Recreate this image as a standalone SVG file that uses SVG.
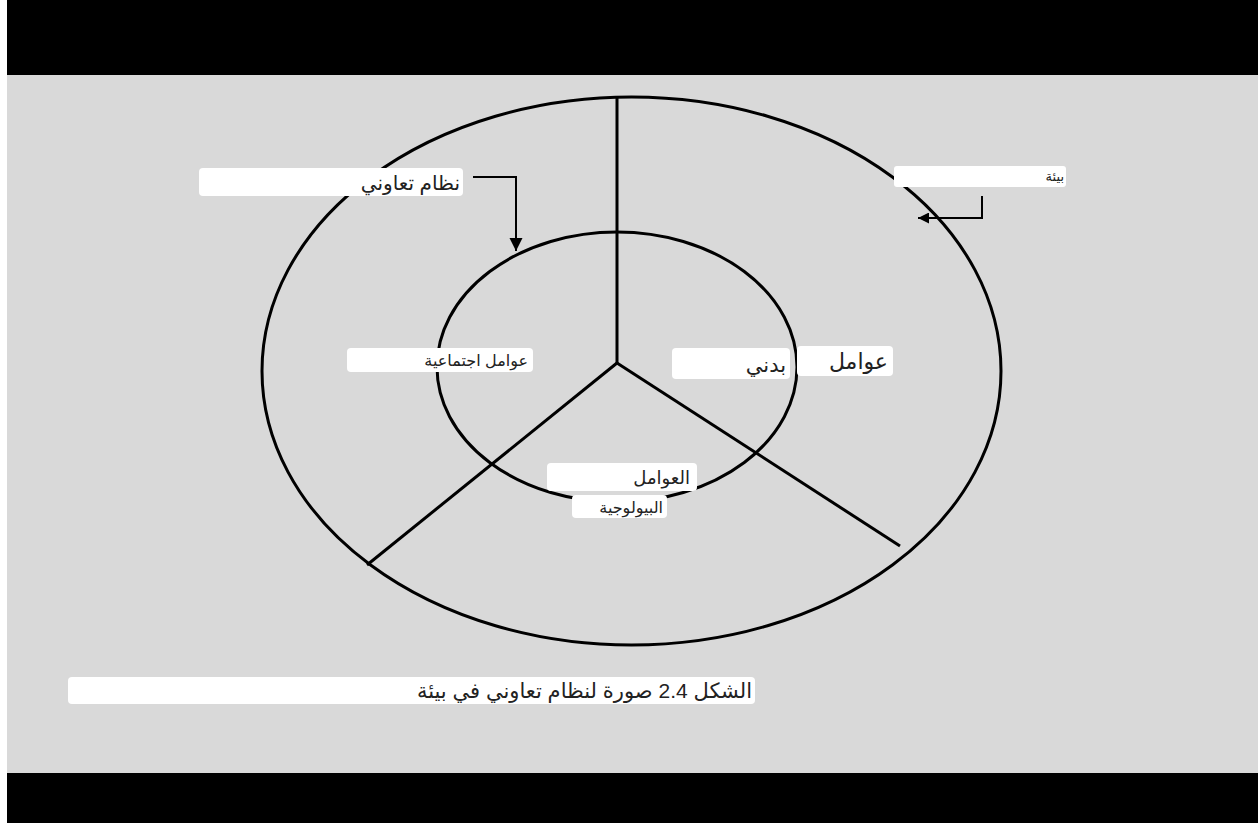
<svg xmlns="http://www.w3.org/2000/svg" width="1258" height="823" viewBox="0 0 1258 823">
<style>
.ring{fill:none;stroke:#000;stroke-width:3}
.seg{stroke:#000;stroke-width:3;fill:none}
.lbl{fill:#fff;stroke:none}
.t{font-family:"Liberation Sans","DejaVu Sans",sans-serif;fill:#222;text-anchor:end}
.conn{stroke:#000;stroke-width:2;fill:none}
</style>
<defs>
<marker id="ah" viewBox="0 0 10 10" refX="10" refY="5" markerWidth="12" markerHeight="11" markerUnits="userSpaceOnUse" orient="auto">
<path d="M0,0 L10,5 L0,10 z" fill="#000"/>
</marker>
<marker id="ah2" viewBox="0 0 10 10" refX="10" refY="5" markerWidth="13" markerHeight="15" markerUnits="userSpaceOnUse" orient="auto">
<path d="M0,0 L10,5 L0,10 z" fill="#000"/>
</marker>
</defs>
<rect x="0" y="0" width="1258" height="823" fill="#fff"/>
<rect x="7" y="0" width="1251" height="75" fill="#000"/>
<rect x="7" y="75" width="1251" height="698" fill="#d9d9d9"/>
<rect x="7" y="773" width="1251" height="50" fill="#000"/>

<g id="environment">
<ellipse class="ring" cx="631.5" cy="371" rx="369.5" ry="274"/>
</g>
<g id="system">
<ellipse class="ring" cx="617" cy="367" rx="180" ry="135"/>
</g>
<g id="dividers">
<line class="seg" x1="617" y1="97" x2="617" y2="363"/>
<line class="seg" x1="617" y1="363" x2="367" y2="565"/>
<line class="seg" x1="617" y1="363" x2="900" y2="546"/>
</g>

<g id="connectors">
<path class="conn" d="M473,177 H516 V251" marker-end="url(#ah2)"/>
<path class="conn" d="M982,196 V218 H918" marker-end="url(#ah)"/>
</g>

<g id="label-system">
<rect class="lbl" x="199" y="168" width="264" height="28" rx="4"/>
<text class="t" x="460" y="190" font-size="20">نظام تعاوني</text>
</g>
<g id="label-environment">
<rect class="lbl" x="894" y="166" width="172" height="21" rx="3"/>
<text class="t" x="1064" y="181" font-size="13">بيئة</text>
</g>
<g id="label-social">
<rect class="lbl" x="347" y="348" width="186" height="24" rx="4"/>
<text class="t" x="528" y="366" font-size="16">عوامل اجتماعية</text>
</g>
<g id="label-physical">
<rect class="lbl" x="672" y="348" width="118" height="31" rx="4"/>
<text class="t" x="786" y="372" font-size="21">بدني</text>
<rect class="lbl" x="797" y="346" width="96" height="30" rx="4"/>
<text class="t" x="888" y="369" font-size="22">عوامل</text>
</g>
<g id="label-biological">
<rect class="lbl" x="547" y="463" width="150" height="28" rx="4"/>
<text class="t" x="690" y="484" font-size="18">العوامل</text>
<rect class="lbl" x="572" y="495" width="95" height="23" rx="4"/>
<text class="t" x="663" y="513" font-size="16">البيولوجية</text>
</g>
<g id="caption">
<rect class="lbl" x="68" y="677" width="687" height="27" rx="4"/>
<text class="t" x="752" y="698" font-size="21">الشكل 2.4 صورة لنظام تعاوني في بيئة</text>
</g>
</svg>
